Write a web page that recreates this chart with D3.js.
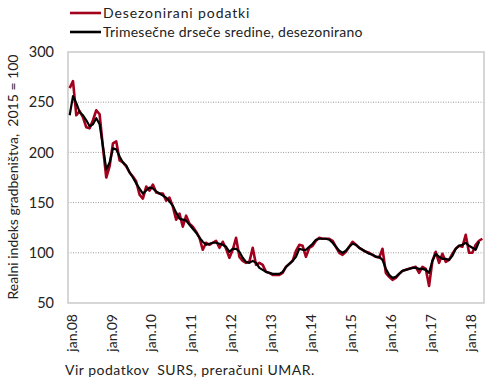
<!DOCTYPE html>
<html><head><meta charset="utf-8">
<script src="https://cdn.jsdelivr.net/npm/d3@7"></script>
<style>
body{margin:0;background:#fff;}
text{font-family:Lato,"Open Sans",sans-serif;fill:#222;}
</style></head><body>
<svg id="chart" width="490" height="382"></svg>
<script>
// Months jan.08 .. maj.18 (125 monthly points)
const monthCount = 125;
const yearLabels = ["jan.08","jan.09","jan.10","jan.11","jan.12","jan.13","jan.14","jan.15","jan.16","jan.17","jan.18"];
const yTicks = [50,100,150,200,250,300];
const seriesNames = ["Desezonirani podatki","Trimesečne drseče sredine, desezonirano"];

const desezonirani = [
 264,271,237,241,235,225,224,232,242,238,205,175,
 186,209,211,192,190,186,180,176,171,158,154,166,
 162,168,160,159,159,152,155,146,133,139,126,137,
 129,126,121,115,103,110,108,110,112,105,111,104,
 95,103,115,96,92,90,91,105,88,90,88,81,
 80,78,78,78,80,86,89,92,102,108,107,96,
 105,107,112,115,114,114,114,112,106,100,98,101,
 106,111,108,105,103,101,100,98,96,95,104,80,
 76,73,75,79,82,83,84,85,86,80,86,84,
 67,92,101,90,99,91,93,99,104,107,106,118,
 100,100,108,112,114
];
const drseceSredine = [
 237,256,249,240,237,232,226,228,234,228,206,183,
 190,204,203,196,190,187,180,175,169,164,159,162,
 165,164,161,159,157,155,151,147,140,134,133,132,
 128,124,120,115,111,108,109,110,110,109,108,106,
 101,104,104,101,95,91,90,92,90,85,83,81,
 80,79,79,79,81,86,89,92,96,104,103,103,
 106,109,113,114,114,114,113,110,106,102,100,102,
 106,109,108,105,103,101,99,98,96,96,93,84,
 78,75,76,79,82,83,84,85,85,84,84,83,
 80,92,99,96,94,94,93,97,104,107,108,110,
 107,105,103,111,null
];

const svg = d3.select("#chart");
const M = {left:68, right:484, top:52, bottom:303};

const x = d3.scaleBand().domain(d3.range(monthCount)).range([M.left, M.right]);
const xc = i => x(i) + x.bandwidth()/2;
const y = d3.scaleLinear().domain([50,300]).range([M.bottom, M.top]);

// gridlines
svg.append("g").selectAll("line").data(yTicks.filter(v => v>50 && v<300)).join("line")
  .attr("x1", M.left).attr("x2", M.right)
  .attr("y1", d => y(d)).attr("y2", d => y(d))
  .attr("stroke","#9a9a9a").attr("stroke-width",1).attr("stroke-dasharray","1,1.5");

// plot border
svg.append("rect").attr("x",M.left).attr("y",M.top)
  .attr("width",M.right-M.left).attr("height",M.bottom-M.top)
  .attr("fill","none").attr("stroke","#c9c9c9").attr("stroke-width",1.5);

// y axis labels
const yAxis = d3.axisLeft(y).tickValues(yTicks).tickSize(0).tickPadding(14);
const gy = svg.append("g").attr("transform",`translate(${M.left},0)`).call(yAxis);
gy.select(".domain").remove();
gy.selectAll("text").style("font-size","14.5px").style("font-family","Lato, sans-serif").attr("fill","#333");

// x axis labels (rotated)
const gx = svg.append("g");
gx.selectAll("text").data(yearLabels).join("text")
  .attr("transform",(d,k) => `translate(${xc(k*12)+2},${M.bottom+11}) rotate(-90)`)
  .attr("text-anchor","end").attr("dy","0.35em")
  .style("font-size","14px").attr("fill","#333")
  .text(d => d);

// lines
const line = d3.line().defined(d => d != null).x((d,i) => xc(i)).y(d => y(d));
svg.append("path").datum(desezonirani).attr("d", line)
  .attr("fill","none").attr("stroke","#a3001e").attr("stroke-width",2.6).attr("stroke-linejoin","round");
svg.append("path").datum(drseceSredine).attr("d", line)
  .attr("fill","none").attr("stroke","#000").attr("stroke-width",2.2).attr("stroke-linejoin","round");

// legend
const legColors = ["#a3001e","#000"];
const legSpacing = ["0.9px","0.25px"];
const leg = svg.append("g");
seriesNames.forEach((n,k) => {
  const ly = 13 + k*19;
  leg.append("line").attr("x1",70).attr("x2",101).attr("y1",ly).attr("y2",ly)
    .attr("stroke",legColors[k]).attr("stroke-width",2.6);
  leg.append("text").attr("x",103).attr("y",ly).attr("dy","0.35em")
    .style("font-size","14px").style("letter-spacing",legSpacing[k]).attr("fill","#222").text(n);
});

// y title
svg.append("text").attr("transform","translate(13,177) rotate(-90)")
  .attr("text-anchor","middle").attr("dy","0.35em")
  .style("font-size","14px").style("white-space","pre").attr("fill","#222")
  .text("Realni indeks gradbeništva,  2015 = 100");

// source
svg.append("text").attr("x",65).attr("y",375)
  .style("font-size","14px").style("letter-spacing","0.5px").style("white-space","pre").attr("fill","#222")
  .text("Vir podatkov  SURS, preračuni UMAR.");
</script>
</body></html>
